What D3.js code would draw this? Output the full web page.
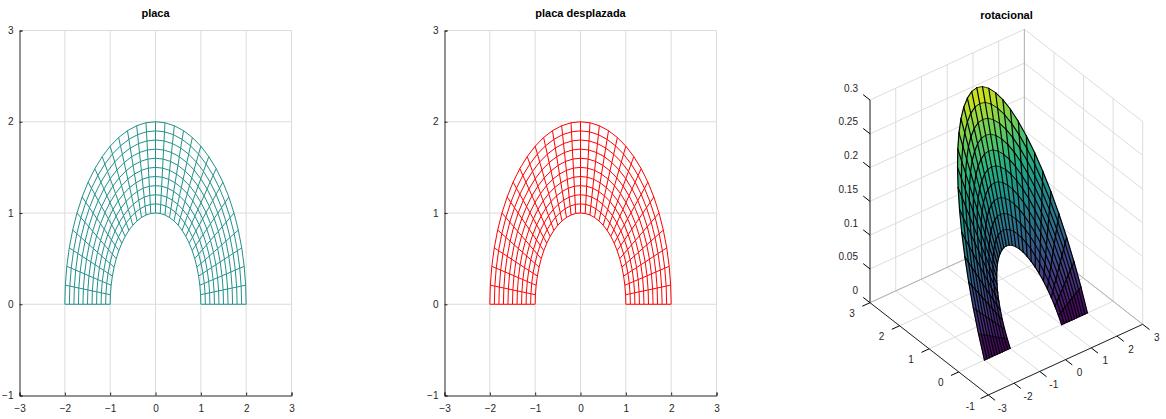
<!DOCTYPE html>
<html><head><meta charset="utf-8">
<script src="https://cdn.jsdelivr.net/npm/d3@7"></script>
<style>
html,body{margin:0;padding:0;background:#fff}
svg{display:block}
text{font-family:"Liberation Sans",Arial,sans-serif;font-size:10px;fill:#262626}
text.title{font-weight:bold;font-size:11px;fill:#000;text-anchor:middle}
</style></head><body>
<svg id="c" width="1166" height="419"></svg>
<script>
// ---- data ----
const titles = ["placa", "placa desplazada", "rotacional"];
const colors2d = ["#21918c", "#ff0000"];
const xTicks = [-3, -2, -1, 0, 1, 2, 3];
const yTicks = [-1, 0, 1, 2, 3];
const zTicks = [0, 0.05, 0.1, 0.15, 0.2, 0.25, 0.3];
const zTickLabels = ["0", "0.05", "0.1", "0.15", "0.2", "0.25", "0.3"];
const radii = [1, 1.1, 1.2, 1.3, 1.4, 1.5, 1.6, 1.7, 1.8, 1.9, 2];
const anglesDeg = [0, 6, 12, 18, 24, 30, 36, 42, 48, 54, 60, 66, 72, 78, 84, 90,
  96, 102, 108, 114, 120, 126, 132, 138, 144, 150, 156, 162, 168, 174, 180];
// crest height of the surface at each radius (rings 1..2)
const crestZ = [0.10, 0.12, 0.14, 0.16, 0.18, 0.20, 0.22, 0.24, 0.26, 0.28, 0.30];
// share of the crest height reached at each angle
const angleShare = [0, 0.105, 0.208, 0.309, 0.407, 0.5, 0.588, 0.669, 0.743, 0.809, 0.866, 0.914, 0.951, 0.978, 0.995, 1,
  0.995, 0.978, 0.951, 0.914, 0.866, 0.809, 0.743, 0.669, 0.588, 0.5, 0.407, 0.309, 0.208, 0.105, 0];

const svg = d3.select("#c");
const GRID = "#dcdcdc", INK = "#262626";
const toX = (r, a) => r * Math.cos(a * Math.PI / 180);
const toY = (r, a) => r * Math.sin(a * Math.PI / 180);

// ---- 2D panels ----
function panel(idx, left, right, top, bottom) {
  const x = d3.scaleLinear().domain([-3, 3]).range([left, right]);
  const y = d3.scaleLinear().domain([-1, 3]).range([bottom, top]);
  const g = svg.append("g");
  const line = (a, b, c, d, col) => g.append("line").attr("x1", a).attr("y1", b).attr("x2", c).attr("y2", d)
    .attr("stroke", col).attr("stroke-width", 1);
  xTicks.forEach(t => { if (t !== -3) line(x(t), top, x(t), bottom, GRID); });
  yTicks.forEach(t => { if (t !== -1) line(left, y(t), right, y(t), GRID); });
  const path = d3.line().x(d => x(d[0])).y(d => y(d[1]));
  const mesh = g.append("g").attr("fill", "none").attr("stroke", colors2d[idx]).attr("stroke-width", 1);
  radii.forEach(r => mesh.append("path").attr("d", path(anglesDeg.map(a => [toX(r, a), toY(r, a)]))));
  anglesDeg.forEach(a => mesh.append("path").attr("d", path(radii.map(r => [toX(r, a), toY(r, a)]))));

  const ax = g.append("g").attr("transform", `translate(0,${bottom})`)
    .call(d3.axisBottom(x).tickValues(xTicks).tickSize(-3).tickPadding(9).tickFormat(d3.format("d")));
  const ay = g.append("g").attr("transform", `translate(${left},0)`)
    .call(d3.axisLeft(y).tickValues(yTicks).tickSize(-3).tickPadding(6).tickFormat(d3.format("d")));
  [ax, ay].forEach(s => {
    s.attr("font-family", null).attr("font-size", null);
    s.selectAll("path,line").attr("stroke", INK);
    s.selectAll("text").attr("fill", INK);
  });
  g.append("text").attr("class", "title").attr("x", (left + right) / 2).attr("y", 16.5).text(titles[idx]);
}
panel(0, 19.5, 291.5, 30.5, 395.5);
panel(1, 444.5, 716.5, 30.5, 395.5);

// ---- 3D panel: linear view scales fitted to the drawn box ----
const sxOfX = d3.scaleLinear().domain([-3, 3]).range([0, 154.4]);
const sxOfY = d3.scaleLinear().domain([-1, 3]).range([988.3, 870]);
const syOfX = d3.scaleLinear().domain([-3, 3]).range([0, -70.7]);
const syOfY = d3.scaleLinear().domain([-1, 3]).range([395, 302.7]);
const syOfZ = d3.scaleLinear().domain([0, 0.3]).range([0, -202.7]);
const P = (x, y, z) => [sxOfX(x) + sxOfY(y), syOfX(x) + syOfY(y) + syOfZ(z)];
const g3 = svg.append("g");
const seg = (a, b, col, w = 1) => {
  const p = P(...a), q = P(...b);
  g3.append("line").attr("x1", p[0]).attr("y1", p[1]).attr("x2", q[0]).attr("y2", q[1])
    .attr("stroke", col).attr("stroke-width", w);
};
// grid on floor and back walls
xTicks.forEach(t => { seg([t, -1, 0], [t, 3, 0], GRID); seg([t, 3, 0], [t, 3, 0.3], GRID); });
yTicks.forEach(t => { seg([-3, t, 0], [3, t, 0], GRID); seg([3, t, 0], [3, t, 0.3], GRID); });
zTicks.forEach(t => { seg([-3, 3, t], [3, 3, t], GRID); seg([3, -1, t], [3, 3, t], GRID); });
seg([3, 3, 0], [3, 3, 0.3], "#b4b4b4");
seg([-3, 3, 0], [3, 3, 0], "#b4b4b4");
seg([3, -1, 0], [3, 3, 0], "#b4b4b4");

// surface, far faces first
const color = d3.scaleSequential(d3.interpolateViridis).domain([0, 0.315]);
const Z = (i, j) => crestZ[i] * angleShare[j];
const X = (i, j) => toX(radii[i], anglesDeg[j]);
const Y = (i, j) => toY(radii[i], anglesDeg[j]);
const V = (i, j) => P(X(i, j), Y(i, j), Z(i, j));
const faces = [];
for (let i = 0; i < radii.length - 1; i++) for (let j = 0; j < anglesDeg.length - 1; j++) {
  const corners = [[i, j], [i + 1, j], [i + 1, j + 1], [i, j + 1]];
  const depth = d3.mean(corners, c => X(c[0], c[1]) / 6 + Y(c[0], c[1]) / 4 - Z(c[0], c[1]) / 0.3);
  const zs = corners.map(c => Z(c[0], c[1]));
  faces.push({ pts: corners.map(c => V(c[0], c[1])), depth, z: d3.mean(zs) });
}
faces.sort((a, b) => d3.descending(a.depth, b.depth));
g3.append("g").selectAll("polygon").data(faces).join("polygon")
  .attr("points", d => d.pts.map(p => p.join(",")).join(" "))
  .attr("fill", d => color(d.z)).attr("stroke", d => color(d.z)).attr("stroke-width", 0.5);
// mesh lines over the faces: near-vertical pieces read heavier in the picture
const meshSegs = [];
radii.forEach((r, i) => d3.pairs(anglesDeg.map((a, j) => V(i, j))).forEach(p => meshSegs.push(p)));
anglesDeg.forEach((a, j) => d3.pairs(radii.map((r, i) => V(i, j))).forEach(p => meshSegs.push(p)));
g3.append("g").attr("stroke", "#000").attr("stroke-linecap", "round").selectAll("line").data(meshSegs).join("line")
  .attr("x1", d => d[0][0]).attr("y1", d => d[0][1]).attr("x2", d => d[1][0]).attr("y2", d => d[1][1])
  .attr("stroke-width", d => {
    const dx = d[1][0] - d[0][0], dy = d[1][1] - d[0][1];
    return 0.65 + 0.55 * Math.abs(dy) / Math.hypot(dx, dy);
  });

// axes and ticks
seg([-3, 3, 0], [-3, 3, 0.3], INK);
seg([-3, -1, 0], [-3, 3, 0], INK);
seg([-3, -1, 0], [3, -1, 0], INK);
const label = (pos, dx, dy, txt, anchor) => g3.append("text").attr("x", pos[0] + dx).attr("y", pos[1] + dy)
  .attr("text-anchor", anchor).attr("dominant-baseline", "central").text(txt);
xTicks.forEach(t => { seg([t, -1, 0], [t, -1.23, 0], "#000"); label(P(t, -1, 0), 14, 13, String(t), "middle"); });
yTicks.forEach(t => { seg([-3, t, 0], [-3.3, t, 0], "#000"); label(P(-3, t, 0), -18, 11, String(t), "middle"); });
zTicks.forEach((t, k) => { seg([-3, 3, t], [-3, 3.23, t], "#000"); label(P(-3, 3, t), -12, -12, zTickLabels[k], "end"); });
g3.append("text").attr("class", "title").attr("x", 1006.5).attr("y", 19).text(titles[2]);
</script>
</body></html>
